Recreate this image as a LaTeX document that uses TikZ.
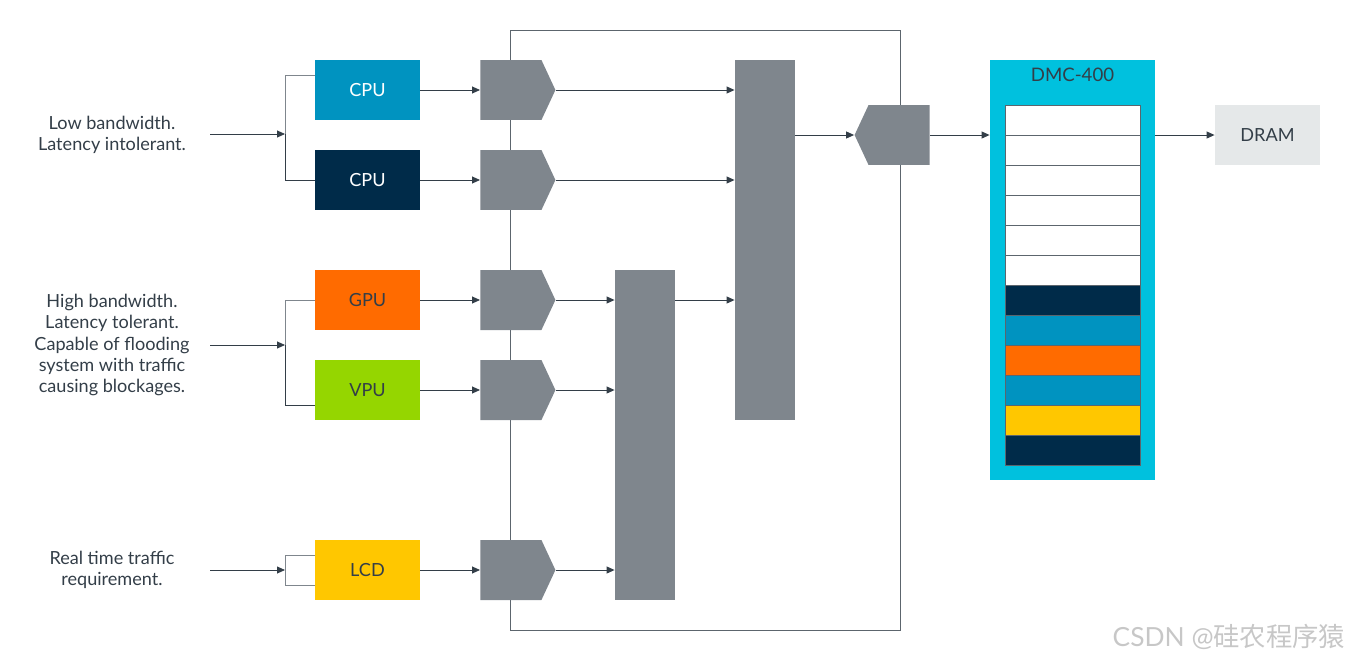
\documentclass[tikz,border=0pt]{standalone}
\usepackage{fontspec}
\setmainfont{Lato}
\newfontfamily\cjk{Noto Sans CJK SC}
\usepackage{tikz}
\usetikzlibrary{arrows.meta,shapes.symbols}
\definecolor{ink}{HTML}{333E48}
\definecolor{slate}{HTML}{7F868D}
\definecolor{armblue}{HTML}{0093C0}
\definecolor{armnavy}{HTML}{002B49}
\definecolor{armorange}{HTML}{FF6B00}
\definecolor{armgreen}{HTML}{95D600}
\definecolor{armyellow}{HTML}{FFC700}
\definecolor{armcyan}{HTML}{00C1DE}
\definecolor{armlight}{HTML}{E5E8E9}
\tikzstyle{unit}=[rectangle, minimum width=2.1cm, minimum height=1.2cm, inner sep=0, font=\fontsize{10.3}{12}\selectfont]
\tikzstyle{port}=[signal, signal pointer angle=130, fill=slate, minimum width=1.5cm, minimum height=1.2cm, inner sep=0]
\tikzstyle{bar}=[rectangle, fill=slate, minimum width=1.2cm, inner sep=0]
\tikzstyle{slot}=[rectangle, draw=ink!80, minimum width=2.7cm, minimum height=0.6cm, inner sep=0]
\tikzstyle{note}=[align=center, text=ink, font=\fontsize{10.3}{12.2}\selectfont]
\tikzstyle{arr}=[draw=ink, -{Triangle[length=1.6mm, width=1.4mm]}]

\begin{document}
\begin{tikzpicture}[x=0.02cm, y=-0.02cm, line width=0.5pt]
	\useasboundingbox (0,0) rectangle (1350,660);
	% frame behind the ports
	\draw[ink!80] (510,30) rectangle (900,630);
	% masters
	\node[unit, fill=armblue, text=white] (cpuA) at (367.5,90) {CPU};
	\node[unit, fill=armnavy, text=white] (cpuB) at (367.5,180) {CPU};
	\node[unit, fill=armorange, text=ink] (gpu) at (367.5,300) {GPU};
	\node[unit, fill=armgreen, text=ink] (vpu) at (367.5,390) {VPU};
	\node[unit, fill=armyellow, text=ink] (lcd) at (367.5,570) {LCD};
	% ports
	\node[port, signal to=east, anchor=west] (pA) at (480,90) {};
	\node[port, signal to=east, anchor=west] (pB) at (480,180) {};
	\node[port, signal to=east, anchor=west] (pG) at (480,300) {};
	\node[port, signal to=east, anchor=west] (pV) at (480,390) {};
	\node[port, signal to=east, anchor=west] (pL) at (480,570) {};
	\node[port, signal to=west, anchor=east] (pM) at (930,135) {};
	% interconnect
	\node[bar, minimum height=7.2cm] (busA) at (765,240) {};
	\node[bar, minimum height=6.6cm] (busB) at (645,435) {};
	% memory controller
	\node[rectangle, fill=armcyan, minimum width=3.3cm, minimum height=8.4cm, inner sep=0] (dmc) at (1072.5,270) {};
	\node[text=ink, font=\fontsize{10.6}{12}\selectfont] (dmct) at (1072.5,75) {DMC-400};
	\foreach \i/\c in {0/white,1/white,2/white,3/white,4/white,5/white,6/armnavy,7/armblue,8/armorange,9/armblue,10/armyellow,11/armnavy}
		\node[slot, fill=\c] (q\i) at (1072.5,120+30*\i) {};
	\node[unit, fill=armlight, text=ink] (dram) at (1267.5,135) {DRAM};
	% traffic classes
	\node[note] (tLow) at (112,135) {Low bandwidth.\\Latency intolerant.};
	\node[note] (tHigh) at (112,345) {High bandwidth.\\Latency tolerant.\\Capable of flooding\\system with traffic\\causing blockages.};
	\node[note] (tRt) at (112,570) {Real time traffic\\requirement.};
	\coordinate (sA) at (210,134);
	\coordinate (jA) at (285,134);
	\coordinate (sB) at (210,345);
	\coordinate (jB) at (285,345);
	\coordinate (sC) at (210,570);
	\coordinate (jC) at (285,570);
	\draw[arr] (sA) -- (jA);
	\draw[arr] (sB) -- (jB);
	\draw[arr] (sC) -- (jC);
	\draw[slate] ([yshift=0.3cm]cpuA.west) -| (jA);
	\draw[ink] (jA) |- (cpuB.west);
	\draw[slate] (gpu.west) -| (jB);
	\draw[ink] (jB) |- ([yshift=-0.3cm]vpu.west);
	\draw[slate] ([yshift=0.3cm]lcd.west) -| (jC);
	\draw[slate] (jC) |- ([yshift=-0.3cm]lcd.west);
	% data paths
	\foreach \m/\p in {cpuA/pA,cpuB/pB,gpu/pG,vpu/pV,lcd/pL}
		\draw[arr] (\m.east) -- (\p.west);
	\draw[arr] (pA.east) -- (pA.east -| busA.west);
	\draw[arr] (pB.east) -- (pB.east -| busA.west);
	\draw[arr] (pG.east) -- (pG.east -| busB.west);
	\draw[arr] (pV.east) -- (pV.east -| busB.west);
	\draw[arr] (pL.east) -- (pL.east -| busB.west);
	\draw[arr] (pG.east -| busB.east) -- (pG.east -| busA.west);
	\draw[arr] (pM.west -| busA.east) -- (pM.west);
	\draw[arr] (pM.east) -- (pM.east -| dmc.west);
	\draw[arr] (dram.west -| dmc.east) -- (dram.west);
	% watermark
	\node[text=black!22, font=\fontsize{15}{17}\selectfont] (mark) at (1229,637) {CSDN @{\cjk 硅农程序猿}};
\end{tikzpicture}
\end{document}
